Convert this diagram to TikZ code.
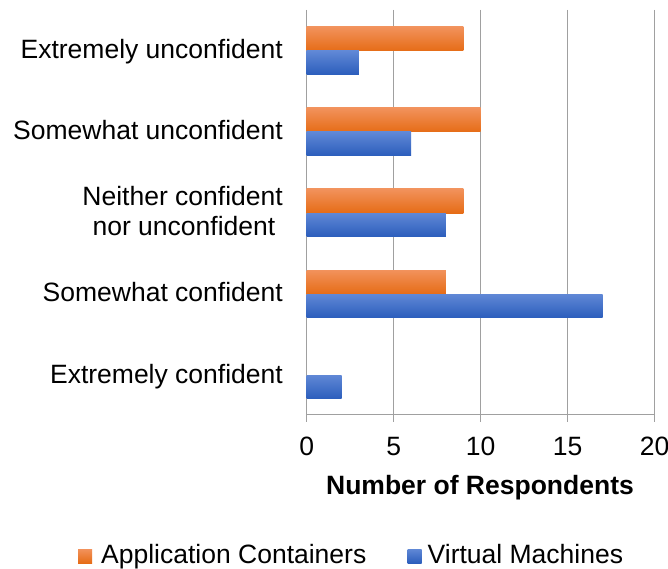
\documentclass[tikz,border=0pt]{standalone}
\usepackage{fontspec}
\setmainfont{Liberation Sans}
\begin{document}
\begin{tikzpicture}[x=1pt,y=-1pt,
  grid/.style={draw={rgb,255:red,160;green,160;blue,160},line width=1.5pt},
  orangebar/.style={top color={rgb,255:red,242;green,146;blue,92},bottom color={rgb,255:red,230;green,108;blue,22},draw=none},
  bluebar/.style={top color={rgb,255:red,96;green,136;blue,214},bottom color={rgb,255:red,44;green,94;blue,188},draw=none},
  lab/.style={inner sep=0pt,font=\fontsize{26.5}{30}\selectfont},
  ticklab/.style={lab,anchor=base},
  catlab/.style={lab,anchor=base east}]
\useasboundingbox (0,0) rectangle (668,569);
\fill[white] (0,0) rectangle (668,569);
% value -> pixel: x = 306.7 + 17.4 v
\def\xo{306.7}
\def\sc{17.4}
% vertical grid lines and ticks
\foreach \v in {0,5,10,15,20}{
  \draw[grid] ({\xo+\sc*\v},10) -- ({\xo+\sc*\v},421.7);
  \node[ticklab] (t\v) at ({\xo+\sc*\v},455) {\v};
}
\draw[grid] (\xo,414.7) -- ({\xo+\sc*20},414.7);
% bars: category index, orange value, blue value
\foreach \i/\a/\b in {0/9/3,1/10/6,2/9/8,3/8/17,4/0/2}{
  \ifdim \a pt>0pt
    \path[orangebar] (\xo,{27+81*\i}) rectangle ({\xo+\sc*\a},{51+81*\i});
  \fi
  \path[bluebar] (\xo,{51+81*\i}) rectangle ({\xo+\sc*\b},{74.5+81*\i});
}
% category labels
\node[catlab] (c0) at (283,59) {Extremely unconfident};
\node[catlab] (c1) at (283,140) {Somewhat unconfident};
\node[catlab] (c2a) at (283,205) {Neither confident};
\node[catlab] (c2b) at (275.5,235) {nor unconfident};
\node[catlab] (c3) at (283,301) {Somewhat confident};
\node[catlab] (c4) at (283,383) {Extremely confident};
% axis title
\node[lab,anchor=base,font=\fontsize{26.5}{30}\selectfont\bfseries] (title) at (480,494) {Number of Respondents};
% legend
\path[orangebar] (78,549) rectangle (92,563);
\node[lab,anchor=base west] (l1) at (101,563) {Application Containers};
\path[bluebar] (407.5,549) rectangle (421.5,563);
\node[lab,anchor=base west] (l2) at (427.5,563) {Virtual Machines};
\end{tikzpicture}
\end{document}
